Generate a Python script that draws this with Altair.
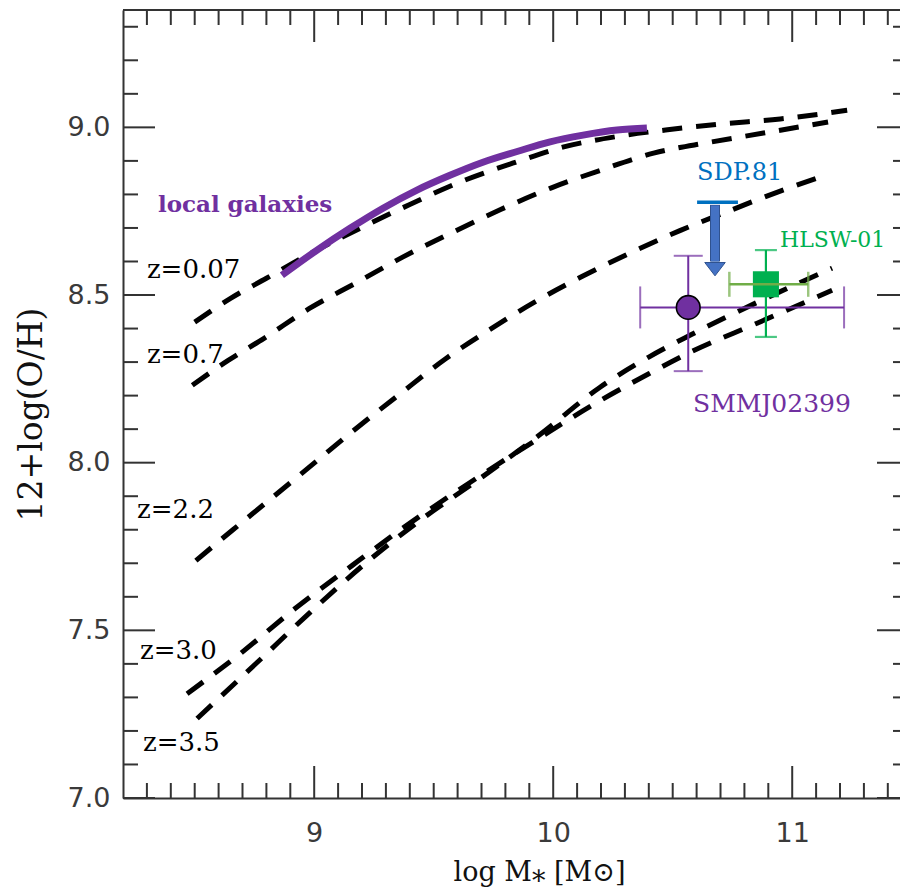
import altair as alt
import pandas as pd

# ---- plot frame -------------------------------------------------------
W, H = 777, 788                  # plot area in pixels
X_MIN, X_MAX = 8.2, 11.451       # log M*
Y_MIN, Y_MAX = 7.0, 9.35         # 12+log(O/H)

FRAME = "#333333"

# ---- mass-metallicity relations at several redshifts -------------------
z007_mass = [8.50, 8.65, 8.80, 9.00, 9.20, 9.40, 9.61, 9.83, 10.04, 10.26, 10.47, 10.70, 10.95, 11.23]
z007_oh = [8.419, 8.490, 8.550, 8.630, 8.702, 8.770, 8.837, 8.893, 8.941, 8.972, 8.992, 9.010, 9.025, 9.051]

z07_mass = [8.49, 8.64, 8.79, 8.98, 9.18, 9.37, 9.57, 9.78, 9.99, 10.21, 10.42, 10.65, 10.88, 11.15]
z07_oh = [8.231, 8.305, 8.371, 8.460, 8.538, 8.613, 8.684, 8.755, 8.819, 8.875, 8.923, 8.955, 8.983, 9.016]

z22_mass = [8.505, 8.66, 8.78, 8.90, 9.01, 9.12, 9.23, 9.35, 9.55, 9.73, 9.92, 10.12, 10.33, 10.53, 10.74, 10.95, 11.15]
z22_oh = [7.708, 7.800, 7.870, 7.940, 8.005, 8.070, 8.133, 8.200, 8.310, 8.395, 8.478, 8.555, 8.628, 8.692, 8.752, 8.810, 8.860]

z30_mass = [8.468, 8.681, 8.920, 9.158, 9.405, 9.652, 9.945, 10.196, 10.400, 10.572, 10.853, 11.167]
z30_oh = [7.311, 7.425, 7.565, 7.693, 7.822, 7.941, 8.075, 8.185, 8.265, 8.329, 8.416, 8.514]

z35_mass = [8.510, 8.761, 8.982, 9.208, 9.443, 9.694, 9.945, 10.196, 10.400, 10.572, 10.853, 11.167]
z35_oh = [7.237, 7.404, 7.553, 7.696, 7.828, 7.953, 8.084, 8.225, 8.315, 8.380, 8.478, 8.580]

# ---- local galaxies relation -------------------------------------------
local_mass = [8.865, 9.012, 9.150, 9.288, 9.430, 9.568, 9.706, 9.849, 9.987, 10.125, 10.267, 10.392]
local_oh = [8.559, 8.634, 8.699, 8.759, 8.813, 8.857, 8.896, 8.928, 8.957, 8.977, 8.992, 8.998]

# ---- individual sources -----------------------------------------------
smm_x, smm_y = 10.565, 8.463
smm_xlo, smm_xhi = 10.364, 11.217
smm_ylo, smm_yhi = 8.273, 8.617

hlsw_x, hlsw_y = 10.890, 8.532
hlsw_xlo, hlsw_xhi = 10.737, 11.067
hlsw_ylo, hlsw_yhi = 8.375, 8.634

sdp_x = 10.677                 # upper limit arrow
sdp_lim = 8.777
sdp_cap = [10.602, 10.773]
sdp_shaft_end = 8.600
sdp_head = 8.578

# ---- text annotations --------------------------------------------------
z_text = ["z=0.07", "z=0.7", "z=2.2", "z=3.0", "z=3.5"]
z_text_x = [8.300, 8.300, 8.259, 8.271, 8.284]
z_text_y = [8.550, 8.296, 7.834, 7.416, 7.141]

src_text = ["SDP.81", "HLSW-01", "SMMJ02399"]
src_text_x = [10.602, 10.949, 10.585]
src_text_y = [8.843, 8.643, 8.150]
src_color = ["#0070C0", "#00B050", "#7030A0"]
src_size = [24, 22, 25]

# ---- axis ticks --------------------------------------------------------
x_major = [9, 10, 11]
y_major = [7.0, 7.5, 8.0, 8.5, 9.0]
x_minor = [round(8.3 + 0.1 * i, 1) for i in range(32)]
x_minor = [v for v in x_minor if v not in x_major]
y_minor = [round(7.1 + 0.1 * i, 1) for i in range(23)]
y_minor = [v for v in y_minor if v not in y_major]

# ---- shared scales and axes ---------------------------------------------
xs = alt.Scale(domain=[X_MIN, X_MAX], nice=False, zero=False)
ys = alt.Scale(domain=[Y_MIN, Y_MAX], nice=False, zero=False)

x_axis = alt.Axis(
    values=x_major, format="d", ticks=False, tickSize=0, grid=False,
    domain=True, domainColor=FRAME, domainWidth=2,
    labelFont="DejaVu Sans", labelFontSize=27, labelColor="#3a3a3a",
    labelPadding=22, labelBaseline="top",
    title="log M\u204e [M\u2299]", titleFont="DejaVu Serif", titleFontSize=27,
    titleFontWeight="normal", titleColor="#111111",
    titleX=416, titleY=82, titleBaseline="alphabetic", titleAnchor="start", titleAlign="center",
)
y_axis = alt.Axis(
    values=y_major, format=".1f", ticks=False, tickSize=0, grid=False,
    domain=True, domainColor=FRAME, domainWidth=2,
    labelFont="DejaVu Sans", labelFontSize=27, labelColor="#3a3a3a",
    labelPadding=13,
    title="12+log(O/H)", titleFont="DejaVu Serif", titleFontSize=33,
    titleFontWeight="normal", titleColor="#111111", titleAngle=270,
    titleX=-92, titleY=404, titleBaseline="middle", titleAlign="center", titleAnchor="start",
)


def X(field):
    return alt.X(field, type="quantitative", scale=xs, axis=x_axis)


def Y(field):
    return alt.Y(field, type="quantitative", scale=ys, axis=y_axis)


# ---- model curves --------------------------------------------------------
rows = []
for label, mass, oh in [
    ("z=0.07", z007_mass, z007_oh),
    ("z=0.7", z07_mass, z07_oh),
    ("z=2.2", z22_mass, z22_oh),
    ("z=3.0", z30_mass, z30_oh),
    ("z=3.5", z35_mass, z35_oh),
]:
    for m, o in zip(mass, oh):
        rows.append({"z": label, "mass": m, "oh": o})
models = pd.DataFrame(rows)

dashed = alt.Chart(models).mark_line(
    color="black", strokeWidth=5, strokeDash=[20, 14], interpolate="monotone", strokeCap="butt"
).encode(x=X("mass"), y=Y("oh"), detail="z:N", order="mass:Q")

local = alt.Chart(pd.DataFrame({"mass": local_mass, "oh": local_oh})).mark_line(
    color="#7030A0", strokeWidth=7, interpolate="monotone", strokeCap="butt"
).encode(x=X("mass"), y=Y("oh"))

# ---- frame ticks (pointing inward) ------------------------------------------
def x_ticks(values, length, top):
    df = pd.DataFrame({"v": values})
    if top:
        ypos, ypos2 = alt.value(0), alt.value(length)
    else:
        ypos, ypos2 = alt.value(H), alt.value(H - length)
    return alt.Chart(df).mark_rule(color=FRAME, strokeWidth=2).encode(x=X("v"), y=ypos, y2=ypos2)


def y_ticks(values, x0, x1):
    df = pd.DataFrame({"v": values})
    return alt.Chart(df).mark_rule(color=FRAME, strokeWidth=2).encode(
        y=Y("v"), x=alt.value(x0), x2=alt.value(x1)
    )


top_line = alt.Chart(pd.DataFrame({"v": [0]})).mark_rule(color=FRAME, strokeWidth=2).encode(
    x=alt.value(0), x2=alt.value(W + 20), y=alt.value(0)
)

ticks = [
    top_line,
    x_ticks(x_minor, 15, False), x_ticks(x_major, 32, False),
    x_ticks(x_minor, 15, True), x_ticks(x_major, 32, True),
    y_ticks(y_minor, 0, 15), y_ticks(y_major, 0, 32),
    y_ticks(y_minor, W - 7, W + 20), y_ticks(y_major, W - 23, W + 20),
]

# ---- SMMJ02399 -----------------------------------------------------------------
SMM = "#7030A0"
smm = pd.DataFrame({"x": [smm_x], "y": [smm_y], "xlo": [smm_xlo], "xhi": [smm_xhi],
                    "ylo": [smm_ylo], "yhi": [smm_yhi]})
smm_h = alt.Chart(smm).mark_rule(color=SMM, strokeWidth=2).encode(x=X("xlo"), x2="xhi", y=Y("y"))
smm_v = alt.Chart(smm).mark_rule(color=SMM, strokeWidth=2).encode(x=X("x"), y=Y("ylo"), y2="yhi")
smm_xcap = alt.Chart(pd.DataFrame({"x": [smm_xlo, smm_xhi], "y": [smm_y, smm_y]})).mark_tick(
    color=SMM, orient="vertical", size=42, thickness=2).encode(x=X("x"), y=Y("y"))
smm_ycap = alt.Chart(pd.DataFrame({"x": [smm_x, smm_x], "y": [smm_ylo, smm_yhi]})).mark_tick(
    color=SMM, orient="horizontal", size=29, thickness=2).encode(x=X("x"), y=Y("y"))
smm_pt = alt.Chart(smm).mark_point(
    shape="circle", filled=True, fill=SMM, stroke="black", strokeWidth=1.6, size=560, opacity=1
).encode(x=X("x"), y=Y("y"))

# ---- HLSW-01 -------------------------------------------------------------------
HL_V, HL_H = "#00B050", "#70AD47"
hl = pd.DataFrame({"x": [hlsw_x], "y": [hlsw_y], "xlo": [hlsw_xlo], "xhi": [hlsw_xhi],
                   "ylo": [hlsw_ylo], "yhi": [hlsw_yhi]})
hl_v = alt.Chart(hl).mark_rule(color=HL_V, strokeWidth=2.2).encode(x=X("x"), y=Y("ylo"), y2="yhi")
hl_ycap = alt.Chart(pd.DataFrame({"x": [hlsw_x, hlsw_x], "y": [hlsw_ylo, hlsw_yhi]})).mark_tick(
    color=HL_V, orient="horizontal", size=22, thickness=2.2).encode(x=X("x"), y=Y("y"))
hl_pt = alt.Chart(hl).mark_point(
    shape="square", filled=True, fill=HL_V, strokeWidth=0, size=680, opacity=1
).encode(x=X("x"), y=Y("y"))
hl_h = alt.Chart(hl).mark_rule(color=HL_H, strokeWidth=2.5).encode(x=X("xlo"), x2="xhi", y=Y("y"))
hl_xcap = alt.Chart(pd.DataFrame({"x": [hlsw_xlo, hlsw_xhi], "y": [hlsw_y, hlsw_y]})).mark_tick(
    color=HL_H, orient="vertical", size=25, thickness=2.5).encode(x=X("x"), y=Y("y"))

# ---- SDP.81 upper limit ----------------------------------------------------------
sdp_capline = alt.Chart(pd.DataFrame({"x": [sdp_cap[0]], "x2": [sdp_cap[1]], "y": [sdp_lim]})).mark_rule(
    color="#0070C0", strokeWidth=3.5).encode(x=X("x"), x2="x2", y=Y("y"))
sdp_shaft_out = alt.Chart(pd.DataFrame({"x": [sdp_x], "y": [sdp_lim - 0.008], "y2": [sdp_shaft_end]})).mark_rule(
    color="#2F528F", strokeWidth=10, strokeCap="butt").encode(x=X("x"), y=Y("y"), y2="y2")
sdp_shaft = alt.Chart(pd.DataFrame({"x": [sdp_x], "y": [sdp_lim - 0.010], "y2": [sdp_shaft_end]})).mark_rule(
    color="#4472C4", strokeWidth=8, strokeCap="butt").encode(x=X("x"), y=Y("y"), y2="y2")
sdp_head_mark = alt.Chart(pd.DataFrame({"x": [sdp_x], "y": [sdp_head]})).mark_point(
    shape="M-1,-0.62L1,-0.62L0,0.68Z", filled=True, fill="#4472C4", stroke="#2F528F",
    strokeWidth=1, size=420, opacity=1).encode(x=X("x"), y=Y("y"))

# ---- text ------------------------------------------------------------------------
z_labels = alt.Chart(pd.DataFrame({"x": z_text_x, "y": z_text_y, "t": z_text})).mark_text(
    align="left", baseline="alphabetic", font="DejaVu Serif", fontSize=26, color="black"
).encode(x=X("x"), y=Y("y"), text="t:N")

local_label = alt.Chart(pd.DataFrame({"x": [8.346], "y": [8.747], "t": ["local galaxies"]})).mark_text(
    align="left", baseline="alphabetic", font="DejaVu Serif", fontSize=23, fontWeight="bold", color="#7030A0"
).encode(x=X("x"), y=Y("y"), text="t:N")

src_labels = alt.Chart(pd.DataFrame({"x": src_text_x, "y": src_text_y, "t": src_text,
                                     "c": src_color, "s": src_size})).mark_text(
    align="left", baseline="alphabetic", font="DejaVu Serif"
).encode(x=X("x"), y=Y("y"), text="t:N",
         color=alt.Color("c:N", scale=None), size=alt.Size("s:Q", scale=None))

chart = alt.layer(
    *ticks,
    dashed, local,
    smm_h, smm_v, smm_xcap, smm_ycap, smm_pt,
    hl_v, hl_ycap, hl_pt, hl_h, hl_xcap,
    sdp_capline, sdp_shaft_out, sdp_shaft, sdp_head_mark,
    z_labels, local_label, src_labels,
).properties(
    width=W, height=H,
    autosize=alt.AutoSizeParams(type="none"),
    padding={"left": 123, "top": 10, "right": 0, "bottom": 90},
).configure_view(stroke=None).configure(background="white")

chart.save("out.html", embed_options={"renderer": "svg", "actions": False})
